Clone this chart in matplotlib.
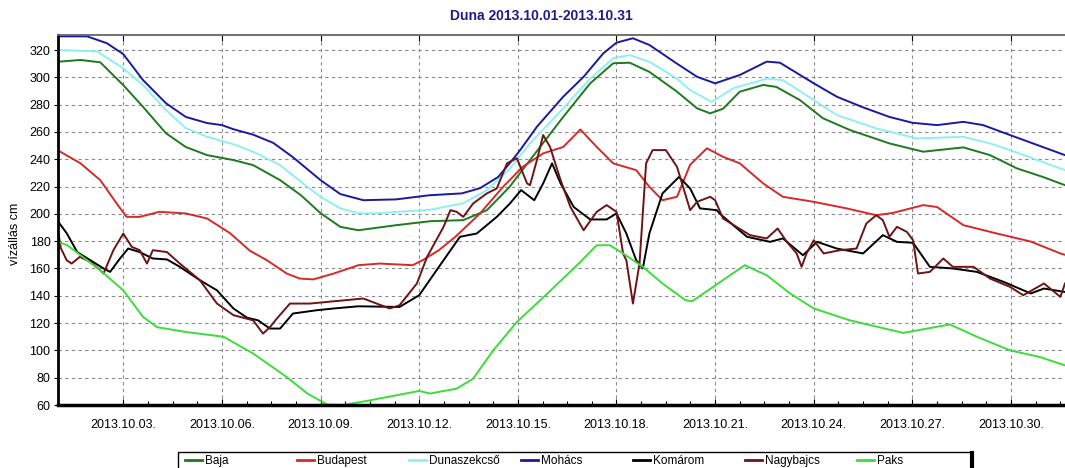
import datetime as dt

import matplotlib
matplotlib.use("Agg")
import matplotlib.pyplot as plt
from matplotlib.lines import Line2D
from matplotlib.patches import Rectangle
from matplotlib.ticker import FixedLocator, FuncFormatter, MultipleLocator
import numpy as np

plt.rcParams["font.family"] = ["Liberation Sans", "DejaVu Sans"]

START = dt.datetime(2013, 10, 1)
TITLE = "Duna 2013.10.01-2013.10.31"
YLABEL = "vízállás cm"

# days since 2013.10.01 00:00, water level in cm
BAJA_DAYS = [0, 0.7, 1.3, 2, 2.6, 3.3, 3.9, 4.55, 5.35, 5.95, 6.77, 7.4, 8, 8.6, 9.15,
             10.3, 11.33, 12.34, 13.06, 13.75, 14.37, 15.38, 16.2, 16.9, 17.4, 18,
             18.84, 19.45, 19.85, 20.24, 20.75, 21.46, 21.86, 22.58, 23.28, 24.1,
             25.3, 26.33, 27.55, 28.36, 29.18, 29.97, 30.64]
BAJA_CM = [311.4, 312.7, 311, 294.3, 278.4, 259, 249, 243, 239.4, 235.7, 224.7, 213.7,
           200.5, 190.5, 188, 191.7, 194.6, 195.4, 202.7, 219.8, 239.4, 271, 295.6,
           310.3, 310.7, 304, 289.5, 277.3, 273.6, 277, 289.5, 294.4, 293, 283.3,
           270, 261.4, 251.6, 245.5, 248.7, 243, 233.3, 227, 221]

BUDAPEST_DAYS = [0, 0.7, 1.3, 1.8, 2.1, 2.5, 3.1, 3.9, 4.55, 5.25, 5.85, 6.37, 6.97,
                 7.37, 7.78, 8.4, 9.15, 9.8, 10.8, 11.1, 11.6, 12.1, 12.85, 13.55,
                 14.15, 14.77, 15.38, 15.9, 16.4, 16.9, 17.6, 18, 18.4, 18.84, 19.24,
                 19.75, 20.24, 20.75, 21.46, 22.06, 23, 24, 24.9, 25.41, 26.33, 26.75,
                 27.55, 28.57, 29.6, 30.5, 30.64]
BUDAPEST_CM = [246.7, 237, 224.7, 207.6, 197.8, 197.8, 201.5, 200.3, 196.6, 185.8,
               173, 166, 156.3, 152.6, 152, 156.3, 162.4, 163.6, 162.4, 166, 173.4,
               183.2, 200.3, 219.8, 234.5, 244.3, 249, 261.8, 249, 237, 232, 219.8,
               210, 212.5, 236, 248, 241.8, 237, 222.3, 212.5, 208.8, 204, 199,
               200.7, 206.4, 205, 191.7, 185.6, 179.7, 171, 170]

DUNASZEKCSO_DAYS = [0, 1.2, 2, 2.6, 3.3, 3.9, 4.55, 5.35, 5.95, 6.77, 7.4, 8, 8.6,
                    9.15, 9.6, 11.33, 12.34, 13.06, 13.75, 14.37, 15.38, 16.2, 16.9,
                    17.4, 18, 18.84, 19.24, 19.9, 20.55, 21.57, 22.06, 23, 23.7, 24.9,
                    26.14, 27.55, 28.36, 28.97, 29.8, 30.64]
DUNASZEKCSO_CM = [320, 319, 306.6, 294.3, 276, 262.8, 256.5, 251, 245.5, 235.7, 223.5,
                  212.5, 204, 200.5, 200.3, 203, 207.8, 217.4, 233, 251.6, 277.3, 299,
                  314, 316.3, 311.4, 299, 290.7, 282, 292, 299, 298, 283.3, 272.4,
                  262.6, 255.3, 256.4, 251.6, 246.7, 239.4, 232]

MOHACS_DAYS = [0, 0.9, 1.5, 2, 2.6, 3.3, 3.9, 4.55, 5, 5.35, 5.95, 6.56, 7.16, 8, 8.6,
               9.3, 10.3, 11.3, 12.3, 12.85, 13.4, 13.75, 14.07, 14.58, 15.38, 16,
               16.6, 17, 17.5, 18, 18.84, 19.45, 20, 20.75, 21.57, 21.97, 23, 23.7,
               24.5, 25.3, 26, 26.75, 27.55, 28.15, 28.97, 29.8, 30.64]
MOHACS_CM = [330, 330, 325, 317, 298, 281, 271, 266.5, 265, 262, 258, 252, 241.5,
             224.7, 214.5, 210, 210.6, 213.6, 215, 218.8, 227, 237, 246.7, 263.8,
             285.8, 300.4, 317.6, 325.4, 328.6, 323.7, 310, 300.4, 295.6, 301.7,
             311.5, 310.7, 295.6, 285.8, 278, 271, 266.7, 265, 267.4, 265, 257.7,
             250.4, 243]

KOMAROM_DAYS = [0, 0.28, 0.6, 1, 1.4, 1.6, 1.9, 2.15, 2.5, 2.9, 3.33, 3.72, 4.33,
                4.85, 5.35, 5.76, 6.1, 6.46, 6.77, 7.16, 7.88, 8.4, 9.15, 10.4, 11,
                11.6, 12.24, 12.75, 13.36, 13.76, 14.1, 14.5, 14.77, 15.04, 15.3, 15.7,
                16.2, 16.7, 17, 17.3, 17.6, 17.8, 18, 18.4, 18.9, 19.24, 19.54, 20.05,
                20.15, 20.55, 20.97, 21.67, 22.06, 22.67, 23.1, 23.7, 24.5, 25.1,
                25.53, 26.02, 26.53, 27.23, 27.96, 28.77, 29.6, 30, 30.64]
KOMAROM_CM = [195, 185.8, 172, 166, 160, 157.5, 167.3, 174.6, 172, 167.3, 166.6,
              161.2, 151.4, 144, 130.7, 124, 122, 116, 116, 127, 129.4, 130.7, 132.3,
              131.8, 140.4, 161.2, 183.2, 185.6, 197.8, 207.6, 217.4, 210, 222.3, 237,
              222.3, 205, 195.9, 195.9, 200.3, 185.6, 166, 160, 185.6, 215, 227,
              218.6, 204, 202.7, 200, 191.7, 183.2, 179.5, 182, 169.7, 179.5, 174.6,
              171, 184.4, 179.5, 178.8, 161.2, 160, 157.5, 150.2, 141.7, 145.3, 142.8]

NAGYBAJCS_DAYS = [0, 0.1, 0.28, 0.43, 0.68, 1, 1.3, 1.4, 1.7, 2, 2.26, 2.5, 2.72, 2.9,
                  3.33, 3.72, 4.33, 4.85, 5.35, 5.95, 6.25, 6.46, 6.67, 7.07, 7.68,
                  8.2, 9.3, 10.1, 10.4, 10.93, 11.24, 11.74, 11.95, 12.14, 12.34,
                  12.64, 13.06, 13.36, 13.67, 13.97, 14.28, 14.37, 14.58, 14.77, 14.98,
                  15.3, 15.6, 16, 16.4, 16.7, 17, 17.2, 17.3, 17.5, 17.7, 17.9, 18.1,
                  18.5, 18.84, 19.24, 19.45, 19.85, 20, 20.24, 20.65, 21.06, 21.57,
                  21.9, 22.18, 22.48, 22.63, 22.78, 23, 23.3, 23.8, 24.3, 24.6, 24.9,
                  25.1, 25.3, 25.53, 25.83, 26.02, 26.17, 26.53, 26.94, 27.23, 27.86,
                  28.36, 28.97, 29.37, 30, 30.5, 30.64]
NAGYBAJCS_CM = [190.5, 175, 166, 163.6, 168.5, 164.8, 158.7, 156.3, 173.4, 185.6,
                175.8, 173.4, 163.6, 173.4, 172, 163.6, 151.4, 134.3, 125.8, 122,
                112.3, 117, 123.3, 134.3, 134.3, 135.5, 138, 130.7, 133, 149, 168.5,
                190.5, 202.7, 201.5, 197.8, 207.6, 215, 218.6, 237, 240.8, 222.3, 221,
                239.4, 257.7, 249, 224.7, 205, 188, 201.5, 206.4, 201.5, 171, 166,
                134.3, 163.6, 237, 246.7, 246.7, 234.5, 202.7, 208.8, 212.5, 210,
                196.6, 190.5, 184.4, 182, 189.3, 179.5, 171, 161.2, 171, 180.7, 171,
                173.4, 174.6, 193, 199, 195.4, 183.2, 190.5, 186.8, 180.7, 156.3,
                157.5, 167.3, 161.2, 161.2, 152.6, 146.5, 140.4, 149, 139.2, 149]

PAKS_DAYS = [0, 0.3, 1.3, 2, 2.6, 3.03, 3.9, 5.05, 5.95, 6.97, 7.6, 8.2, 8.7, 9.5, 11,
             11.33, 12.14, 12.64, 13.25, 13.97, 14.9, 15.8, 16.4, 16.8, 17.2, 17.8,
             18.4, 19.1, 19.3, 19.94, 20.9, 21.57, 22.28, 23, 24.1, 25.72, 27.14,
             27.96, 28.97, 29.87, 30.64]
PAKS_CM = [179.7, 177, 158.7, 144, 124.5, 117, 113.5, 110, 97.7, 80.5, 68.4, 60.3, 60,
           63.4, 70.3, 68.4, 72, 79.3, 100, 120.8, 141.7, 162.4, 177, 177, 171, 161.2,
           149, 136.7, 136, 146.5, 162.4, 155, 141.7, 130.7, 122, 112.8, 119, 110,
           100, 95.2, 89]

STATIONS = ["Baja", "Budapest", "Dunaszekcső", "Mohács", "Komárom", "Nagybajcs", "Paks"]
SERIES = [(BAJA_DAYS, BAJA_CM), (BUDAPEST_DAYS, BUDAPEST_CM),
          (DUNASZEKCSO_DAYS, DUNASZEKCSO_CM), (MOHACS_DAYS, MOHACS_CM),
          (KOMAROM_DAYS, KOMAROM_CM), (NAGYBAJCS_DAYS, NAGYBAJCS_CM),
          (PAKS_DAYS, PAKS_CM)]
COLORS = ["#1f7a1f", "#d42a2a", "#8ff0f0", "#1a1a9e", "#000000", "#6e1414", "#3ddc3d"]

W, H = 1065, 468
fig = plt.figure(figsize=(W / 100, H / 100), dpi=100)
ax = fig.add_axes([57.5 / W, 1 - 405 / H, 1 - 57.5 / W, 370 / H])

handles = []
for name, (days, cm), color in zip(STATIONS, SERIES, COLORS):
    line, = ax.plot(days, cm, color=color, lw=1.4, label=name, solid_joinstyle="round")
    handles.append(line)

ax.set_xlim(0, 30.64)
ax.set_ylim(60, 331)

# major ticks every 3 days from 10.03, minor every 18 hours
ax.xaxis.set_major_locator(FixedLocator(np.arange(2, 31, 3)))
ax.xaxis.set_minor_locator(FixedLocator(np.arange(2, 31, 0.75)))
ax.xaxis.set_major_formatter(FuncFormatter(
    lambda d, _: (START + dt.timedelta(days=float(d))).strftime("%Y.%m.%d.")))
ax.yaxis.set_major_locator(MultipleLocator(20))

ax.tick_params(axis="x", which="major", direction="in", length=4, width=0.8,
               pad=10, labelsize=9, top=True)
ax.tick_params(axis="x", which="minor", direction="in", length=3, width=0.8)
ax.tick_params(axis="y", which="major", direction="out", length=3, width=0.8,
               pad=2, labelsize=9)

ax.grid(True, which="major", color="#8a8a8a", lw=0.8, ls=(0, (3, 3)))
ax.set_axisbelow(True)

ax.spines["right"].set_visible(False)
ax.spines["left"].set_linewidth(2)
ax.spines["bottom"].set_linewidth(2.5)
ax.spines["top"].set_linewidth(1.3)
ax.spines["top"].set_color("#666666")

fig.text(541 / W, 1 - 16 / H, TITLE, ha="center", va="center", fontsize=10,
         fontweight="bold", color="#1c1c8c")
fig.text(15 / W, 1 - 234 / H, YLABEL, rotation=90, ha="center", va="center",
         fontsize=9)

# legend: one box with fixed-width slots, like the original chart
LEG_X0, LEG_X1, LEG_TOP = 178, 972, 452
slot = (LEG_X1 - LEG_X0 - 10) / len(STATIONS)
fig.add_artist(Rectangle((LEG_X0 / W, -0.02), (LEG_X1 - LEG_X0) / W,
                         1 - LEG_TOP / H + 0.02, transform=fig.transFigure,
                         facecolor="white", edgecolor="black", lw=1, zorder=1))
fig.add_artist(Line2D([LEG_X1 / W, LEG_X1 / W], [0, 1 - (LEG_TOP + 1) / H],
                      color="black", lw=3, transform=fig.transFigure, zorder=2))
for i, h in enumerate(handles):
    x = (LEG_X0 + 5 + i * slot) / W
    leg = fig.legend([h], [STATIONS[i]], loc="upper left",
                     bbox_to_anchor=(x, 1 - (LEG_TOP + 1) / H), frameon=False,
                     fontsize=8.5, handlelength=1.45, handletextpad=0.25,
                     borderpad=0.2, borderaxespad=0)
    leg.set_zorder(3)
    for line in leg.get_lines():
        line.set_linewidth(2)

fig.savefig("out.png", dpi=100)
